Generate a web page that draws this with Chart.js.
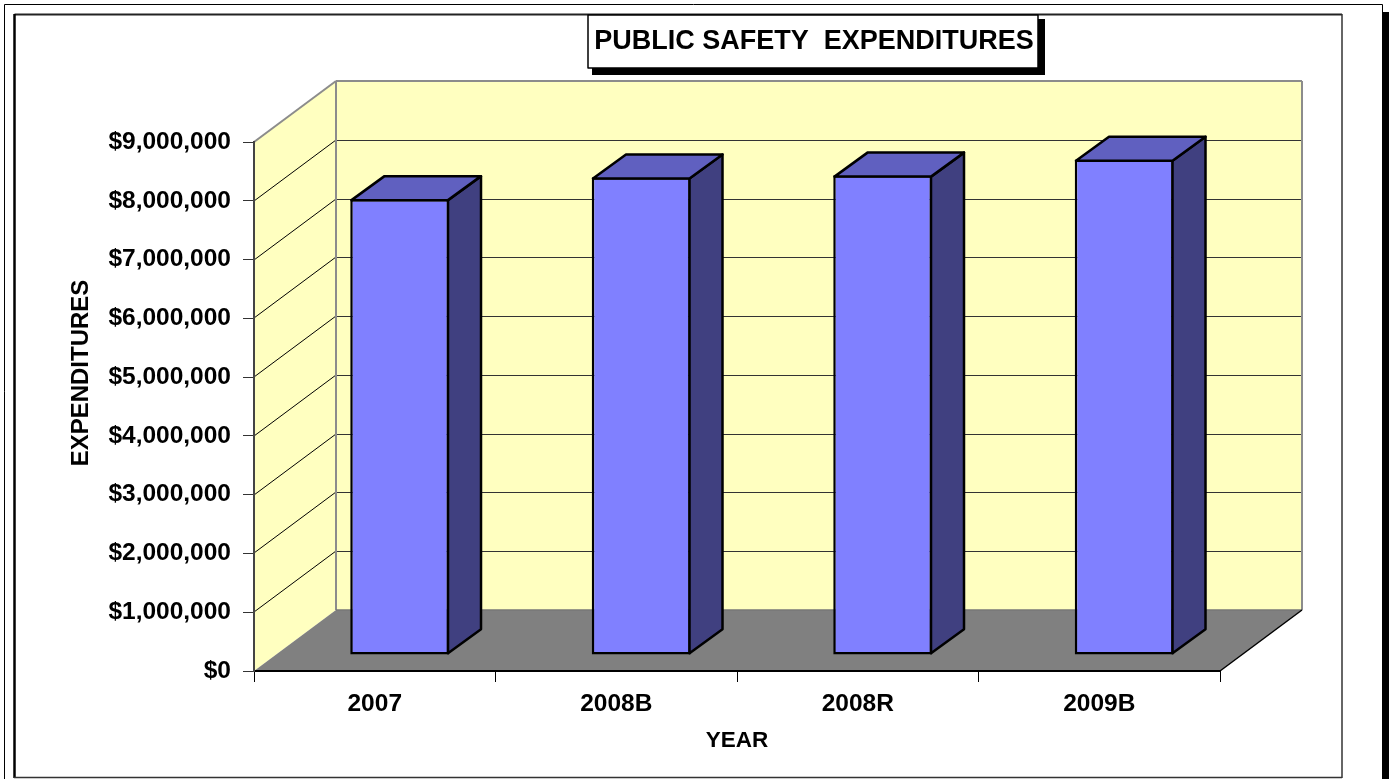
<!doctype html>
<html lang="en">
  <head>
    <meta charset="utf-8">
    <title>Public Safety Expenditures</title>
    <style>
      * {
        margin: 0;
        padding: 0;
      }
      body {
        background: white;
        overflow: hidden;
      }
      canvas {
        display: block;
      }
    </style>
  </head>
  <body>
    <canvas id="myChart" width="1393" height="779"></canvas>
    <script src="https://cdn.jsdelivr.net/npm/chart.js@4/dist/chart.umd.min.js"></script>
    <script>
    // data
    const categories = ['2007', '2008B', '2008R', '2009B'];
    const expenditures = [7760000, 8130000, 8160000, 8430000];
    const yMax = 9000000;
    const yStep = 1000000;
    const chartTitle = 'PUBLIC SAFETY  EXPENDITURES';
    const xTitle = 'YEAR';
    const yTitle = 'EXPENDITURES';

    // 3d look
    const wallDepth = { x: 82, y: -61 };
    const barShift = { x: 25, y: -16 };
    const barDepth = { x: 33, y: -24 };
    const barLine = 2.5;
    const FONT = '"Liberation Sans", Arial, sans-serif';

    function line(ctx, x1, y1, x2, y2, color, width) {
      ctx.strokeStyle = color;
      ctx.lineWidth = width;
      ctx.beginPath();
      ctx.moveTo(x1, y1);
      ctx.lineTo(x2, y2);
      ctx.stroke();
    }

    function poly(ctx, pts, fill, stroke, width) {
      ctx.beginPath();
      pts.forEach((p, i) => i ? ctx.lineTo(p[0], p[1]) : ctx.moveTo(p[0], p[1]));
      ctx.closePath();
      ctx.fillStyle = fill;
      ctx.fill();
      if (stroke) {
        ctx.strokeStyle = stroke;
        ctx.lineWidth = width;
        ctx.lineJoin = 'round';
        ctx.stroke();
      }
    }

    const frame3d = {
      id: 'frame3d',
      // page frame, title box, walls and floor go under the axes
      beforeDraw(chart) {
        const ctx = chart.ctx;
        const { left, right, top, bottom } = chart.chartArea;
        const dx = wallDepth.x, dy = wallDepth.y;
        const y = chart.scales.y;

        ctx.save();
        ctx.fillStyle = '#fff';
        ctx.fillRect(0, 0, chart.width, chart.height);

        // outer sheet with its black shadow on the right
        ctx.fillStyle = '#000';
        ctx.fillRect(1382, 12, 7, 767);
        line(ctx, 4.5, 4.5, 1382.5, 4.5, '#000', 1);
        line(ctx, 4.5, 4.5, 4.5, 779, '#000', 1);
        line(ctx, 1382.5, 4.5, 1382.5, 12, '#000', 1);

        // chart border
        line(ctx, 14.5, 14.5, 1342, 14.5, '#222', 2);
        line(ctx, 14.5, 14, 14.5, 778, '#000', 2.5);
        line(ctx, 1342, 14, 1342, 778, '#333', 1.5);
        line(ctx, 14, 777.5, 1342, 777.5, '#333', 1.5);

        // walls
        const wall = '#FFFFC0';
        ctx.fillStyle = wall;
        ctx.fillRect(left + dx, top + dy, right - left, bottom - top);
        poly(ctx, [[left, bottom], [left + dx, bottom + dy], [left + dx, top + dy], [left, top]], wall);

        // gridlines run over the side wall and the back wall
        for (let v = yStep; v < yMax; v += yStep) {
          const py = Math.round(y.getPixelForValue(v));
          line(ctx, left, py, left + dx, py + dy, '#000', 1);
          line(ctx, left + dx, py + dy + 0.5, right + dx, py + dy + 0.5, '#333', 1);
        }

        // floor
        poly(ctx, [[left, bottom], [left + dx, bottom + dy], [right + dx, bottom + dy], [right, bottom]], '#808080');

        // wall edges
        const edge = '#8c8c8c';
        line(ctx, left + dx, top + dy, left + dx, bottom + dy, edge, 2);
        line(ctx, left, top, left + dx, top + dy, edge, 2);
        line(ctx, left + dx, top + dy, right + dx, top + dy, edge, 2);
        line(ctx, right + dx, top + dy, right + dx, bottom + dy, edge, 2);
        line(ctx, left + dx, bottom + dy, right + dx, bottom + dy, '#777', 1.5);
        line(ctx, right, bottom, right + dx, bottom + dy, '#000', 1.5);
        ctx.restore();
      },
      beforeDatasetsDraw(chart) {
        chart.ctx.save();
        chart.ctx.translate(barShift.x, barShift.y);
      },
      // top and side of each bar, then the labels that are not on an axis
      afterDatasetsDraw(chart) {
        const ctx = chart.ctx;
        ctx.restore();
        const dx = barDepth.x, dy = barDepth.y;
        const inset = barLine / 2; // chart.js keeps the border inside the bar
        chart.getDatasetMeta(0).data.forEach(bar => {
          const l = bar.x - bar.width / 2 + barShift.x + inset;
          const r = bar.x + bar.width / 2 + barShift.x - inset;
          const t = bar.y + barShift.y + inset;
          const b = bar.base + barShift.y - inset;
          poly(ctx, [[r, b], [r + dx, b + dy], [r + dx, t + dy], [r, t]], '#404080', '#000', barLine);
          poly(ctx, [[l, t], [l + dx, t + dy], [r + dx, t + dy], [r, t]], '#6060C0', '#000', barLine);
        });

        // title box
        ctx.save();
        ctx.fillStyle = '#000';
        ctx.fillRect(592, 19, 453, 56);
        ctx.fillStyle = '#fff';
        ctx.fillRect(588, 15, 450, 53);
        ctx.strokeStyle = '#000';
        ctx.lineWidth = 1.5;
        ctx.strokeRect(588, 15, 450, 53);
        ctx.fillStyle = '#000';
        ctx.font = 'bold 27px ' + FONT;
        ctx.textAlign = 'center';
        ctx.textBaseline = 'middle';
        ctx.fillText(chartTitle, 814, 41.5);

        // y axis title sits at the middle of the wall, not the axis
        ctx.font = 'bold 24px ' + FONT;
        ctx.translate(81.5, 373);
        ctx.rotate(-Math.PI / 2);
        ctx.fillText(yTitle, 0, 0);
        ctx.restore();
      }
    };

    const myChart = new Chart(document.getElementById('myChart'), {
      type: 'bar',
      data: {
        labels: categories,
        datasets: [{
          data: expenditures,
          backgroundColor: '#8080FF',
          borderColor: '#000',
          borderWidth: barLine,
          borderSkipped: false,
          categoryPercentage: 1,
          barPercentage: 0.41,
          clip: false
        }]
      },
      options: {
        responsive: false,
        animation: false,
        layout: { padding: { top: 142, right: 173, left: 0, bottom: 0 } },
        plugins: {
          legend: { display: false },
          tooltip: { enabled: false }
        },
        scales: {
          x: {
            afterFit(scale) { scale.height = 108; },
            grid: { drawOnChartArea: false, color: '#000', tickLength: 11, tickWidth: 1 },
            border: { color: '#000', width: 2 },
            ticks: {
              color: '#000',
              padding: 8,
              maxRotation: 0,
              font: { family: FONT, size: 24.5, weight: 'bold' }
            },
            title: {
              display: true,
              text: xTitle,
              color: '#000',
              padding: { top: 0, bottom: 25 },
              font: { family: FONT, size: 22.5, weight: 'bold' }
            }
          },
          y: {
            min: 0,
            max: yMax,
            afterFit(scale) { scale.width = 254; },
            grid: { drawOnChartArea: false, color: '#333', tickLength: 11, tickWidth: 1 },
            border: { color: '#444', width: 2 },
            ticks: {
              stepSize: yStep,
              color: '#000',
              padding: 12,
              font: { family: FONT, size: 24.5, weight: 'bold' },
              callback: value => '$' + value.toLocaleString('en-US')
            }
          }
        }
      },
      plugins: [frame3d]
    });
    </script>
  </body>
</html>
